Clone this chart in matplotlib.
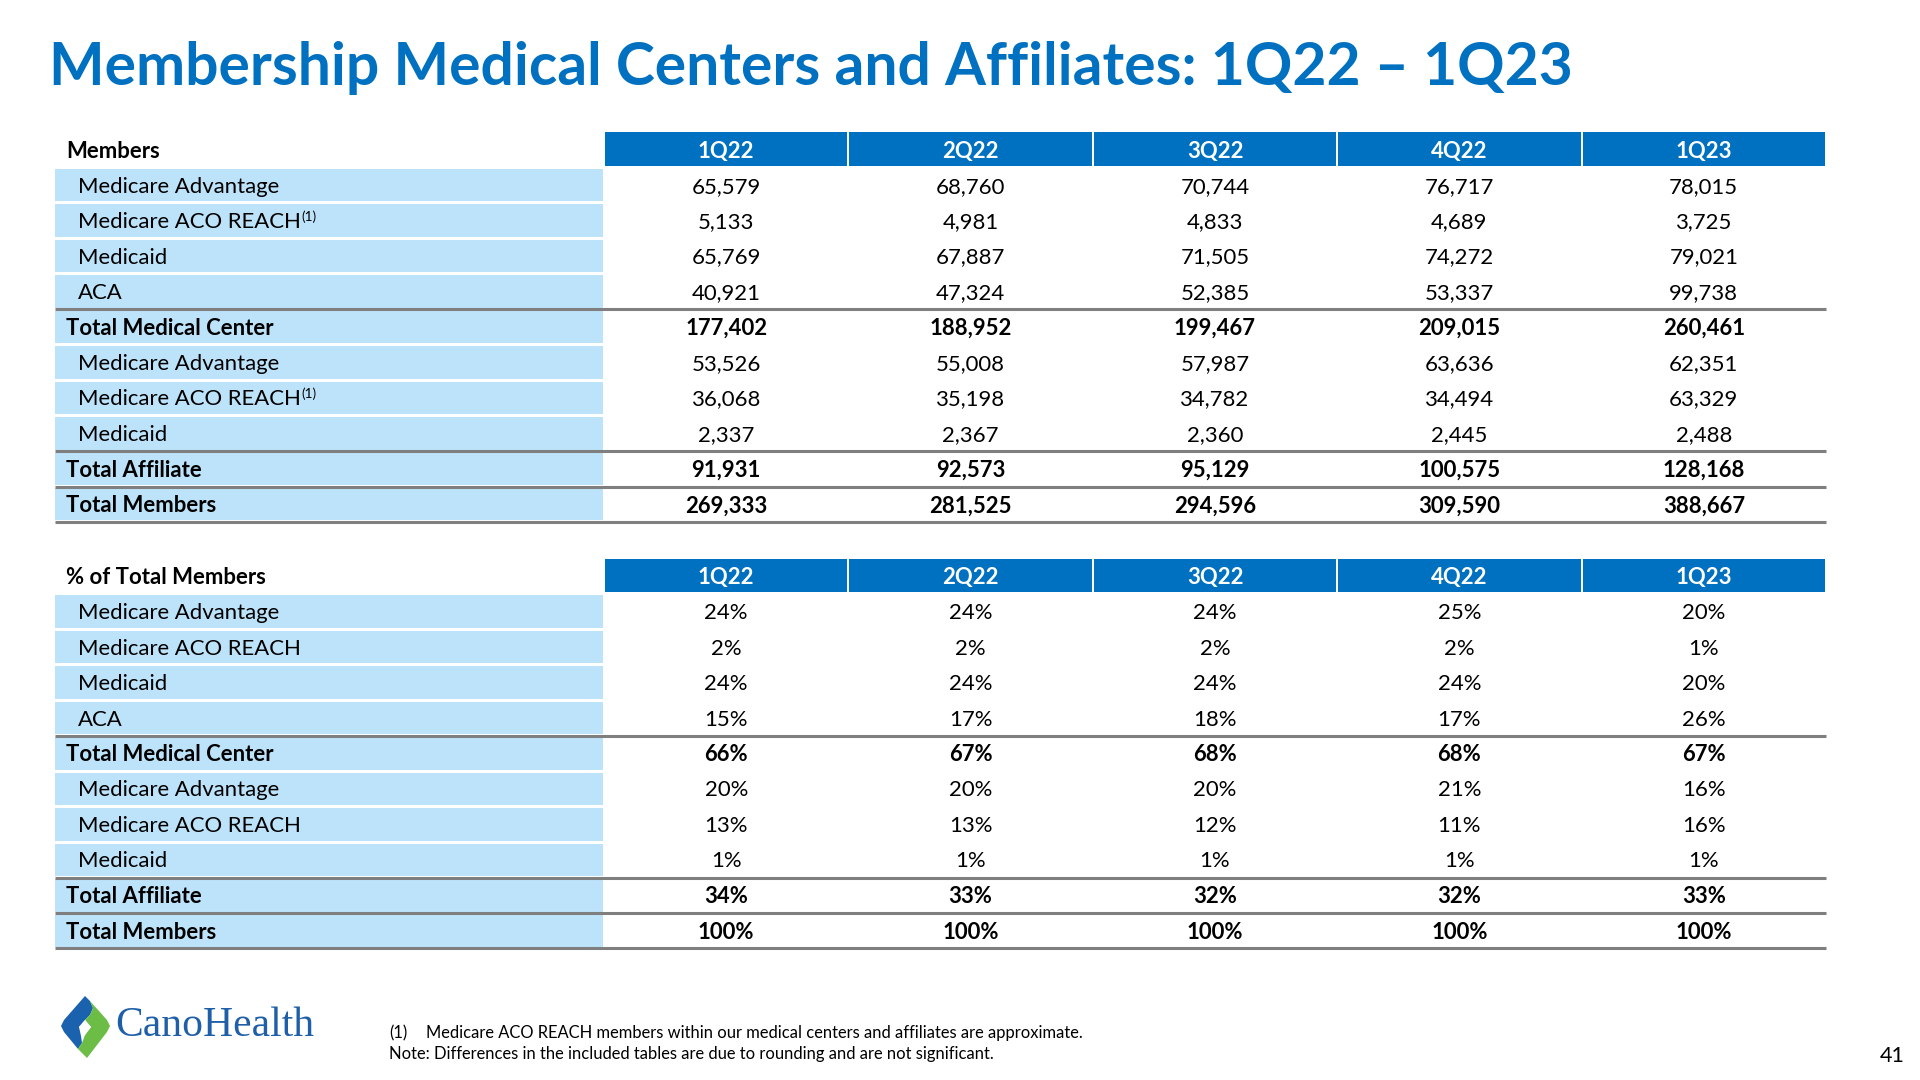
import numpy as np
import matplotlib
matplotlib.use("Agg")
import matplotlib.pyplot as plt
from matplotlib.patches import Rectangle, Polygon

plt.rcParams['font.family'] = ['Lato', 'DejaVu Sans']

# Data
quarters = ['1Q22', '2Q22', '3Q22', '4Q22', '1Q23']
row_labels = ['Medicare Advantage', 'Medicare ACO REACH', 'Medicaid', 'ACA',
              'Total Medical Center', 'Medicare Advantage', 'Medicare ACO REACH',
              'Medicaid', 'Total Affiliate', 'Total Members']
is_total = [False, False, False, False, True, False, False, False, True, True]
footnote_rows = [1, 6]

members = [
    [65579, 68760, 70744, 76717, 78015],
    [5133, 4981, 4833, 4689, 3725],
    [65769, 67887, 71505, 74272, 79021],
    [40921, 47324, 52385, 53337, 99738],
    [177402, 188952, 199467, 209015, 260461],
    [53526, 55008, 57987, 63636, 62351],
    [36068, 35198, 34782, 34494, 63329],
    [2337, 2367, 2360, 2445, 2488],
    [91931, 92573, 95129, 100575, 128168],
    [269333, 281525, 294596, 309590, 388667],
]
pct_members = [
    [24, 24, 24, 25, 20],
    [2, 2, 2, 2, 1],
    [24, 24, 24, 24, 20],
    [15, 17, 18, 17, 26],
    [66, 67, 68, 68, 67],
    [20, 20, 20, 21, 16],
    [13, 13, 12, 11, 16],
    [1, 1, 1, 1, 1],
    [34, 33, 32, 32, 33],
    [100, 100, 100, 100, 100],
]

DARK = '#0070C0'
LIGHT = '#BDE3FA'
GRAY = '#7F7F7F'

fig = plt.figure(figsize=(19.2, 10.8), dpi=100)
ax = fig.add_axes([0, 0, 1, 1])
ax.set_xlim(0, 1920)
ax.set_ylim(1080, 0)
ax.axis('off')

ax.text(49, 68, 'Membership Medical Centers and Affiliates: 1Q22 \u2013 1Q23',
        fontsize=42.3, fontweight='bold', color=DARK, va='center', ha='left')

x0 = 55          # table left
xl = 604         # label column right
xr = 1826        # table right
rh = 35.45       # row height
cw = (xr - xl) / len(quarters)
fs = 15.9
dy = 1.5         # text nudge down


def draw_table(top, title, values, fmt, footnotes):
    # header row
    ax.text(66, top + rh / 2 + dy, title, fontsize=fs, fontweight='bold',
            va='center', ha='left', color='black')
    for j, q in enumerate(quarters):
        ax.add_patch(Rectangle((xl + j * cw + 1, top), cw - 2, rh - 1.5,
                               facecolor=DARK, edgecolor='none'))
        ax.text(xl + (j + 0.5) * cw, top + rh / 2 + dy, q, fontsize=fs,
                fontweight='bold', color='white', va='center', ha='center')
    for i, lab in enumerate(row_labels):
        y = top + (i + 1) * rh
        ax.add_patch(Rectangle((x0, y + 1.5), xl - x0 - 1, rh - 3,
                               facecolor=LIGHT, edgecolor='none'))
        w = 'bold' if is_total[i] else 'normal'
        lx = 66 if is_total[i] else 78
        t = ax.text(lx, y + rh / 2 + dy, lab, fontsize=fs, fontweight=w,
                    va='center', ha='left', color='black')
        if footnotes and i in footnote_rows:
            fig.canvas.draw()
            bb = t.get_window_extent()
            ax.text(bb.x1 + 1, y + rh / 2 - 4, '(1)', fontsize=fs * 0.62,
                    va='center', ha='left', color='black')
        for j in range(len(quarters)):
            ax.text(xl + (j + 0.5) * cw, y + rh / 2 + dy, fmt(values[i][j]),
                    fontsize=fs, fontweight=w, va='center', ha='center',
                    color='black')
        if is_total[i]:
            ax.plot([x0, xr], [y, y], color=GRAY, lw=2.2, solid_capstyle='butt')
    ybot = top + (len(row_labels) + 1) * rh
    ax.plot([x0, xr], [ybot, ybot], color=GRAY, lw=2.2, solid_capstyle='butt')


draw_table(132, 'Members', members, lambda v: f'{v:,}', True)
draw_table(558.5, '% of Total Members', pct_members, lambda v: f'{v}%', False)

# logo: two interlocking halves of a diamond with a white centre
ax.add_patch(Polygon([(85, 996), (90, 1001), (93, 1008), (90, 1015), (85, 1020),
                      (79, 1027), (81, 1036), (82, 1043), (78, 1049),
                      (64, 1032), (61, 1026), (64, 1020)], closed=True,
                     facecolor='#1A62AE', edgecolor='none'))
ax.add_patch(Polygon([(90, 1001), (107, 1020), (110, 1026), (107, 1032),
                      (87, 1058), (82, 1053), (78, 1049), (82, 1043), (85, 1035),
                      (91, 1027), (85, 1020), (90, 1015), (93, 1008)], closed=True,
                     facecolor='#6CBD45', edgecolor='none'))
ax.add_patch(Polygon([(85, 1020), (91, 1027), (85, 1035), (79, 1027)], closed=True,
                     facecolor='white', edgecolor='none'))
ax.text(115, 1026, 'CanoHealth', fontsize=29.9, family='Liberation Serif',
        color='#1F5FA8', va='center', ha='left')

# footnotes
ax.text(389, 1033, '(1)', fontsize=11.9, va='center', ha='left')
ax.text(426, 1033, 'Medicare ACO REACH members within our medical centers and affiliates are approximate.',
        fontsize=11.9, va='center', ha='left')
ax.text(389, 1054, 'Note: Differences in the included tables are due to rounding and are not significant.',
        fontsize=11.9, va='center', ha='left')
ax.text(1905, 1056, '41', fontsize=15.5, va='center', ha='right')

fig.savefig('out.png', dpi=100)
